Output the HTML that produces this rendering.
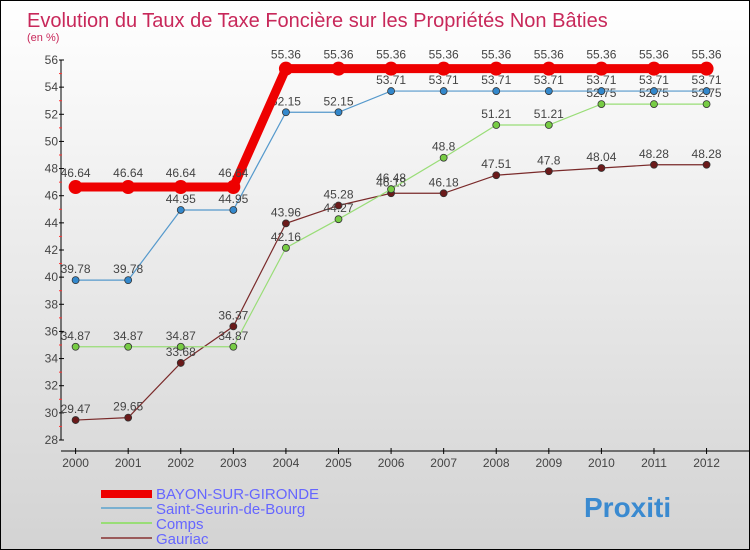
<!DOCTYPE html>
<html><head><meta charset="utf-8"><style>
body{margin:0}
#wrap{width:750px;height:550px;position:relative;box-sizing:border-box;border:1px solid #000;background:linear-gradient(#ffffff,#d3d3d3);font-family:"Liberation Sans",sans-serif;overflow:hidden}
</style></head><body>
<div id="wrap">
<svg id="chart" width="748" height="548"></svg>
</div>
<script>
const years=[2000,2001,2002,2003,2004,2005,2006,2007,2008,2009,2010,2011,2012];
const bayon=[46.64,46.64,46.64,46.64,55.36,55.36,55.36,55.36,55.36,55.36,55.36,55.36,55.36];
const saint=[39.78,39.78,44.95,44.95,52.15,52.15,53.71,53.71,53.71,53.71,53.71,53.71,53.71];
const comps=[34.87,34.87,34.87,34.87,42.16,44.27,46.48,48.8,51.21,51.21,52.75,52.75,52.75];
const gauriac=[29.47,29.65,33.68,36.37,43.96,45.28,46.18,46.18,47.51,47.8,48.04,48.28,48.28];
const yTicks=[28,30,32,34,36,38,40,42,44,46,48,50,52,54,56];
const NS="http://www.w3.org/2000/svg";
const svg=document.getElementById('chart');
const X=i=>74.6+i*52.58;
const Y=v=>439-(v-28)*(380/28);
function el(t,a,txt){const e=document.createElementNS(NS,t);for(const k in a)e.setAttribute(k,a[k]);if(txt!==undefined)e.textContent=txt;svg.appendChild(e);return e;}
let t=el('text',{x:26,y:26,'font-size':20,fill:'#c8285a'},'Evolution du Taux de Taxe Foncière sur les Propriétés Non Bâties');

t=el('text',{x:26,y:40,'font-size':11,fill:'#c8285a'},'(en %)');

let a=el('line',{x1:60,y1:Y(56),x2:60,y2:Y(28),stroke:'#000'});
a=el('line',{x1:60,y1:450,x2:748,y2:450,stroke:'#000'});
yTicks.forEach(v=>{
 el('line',{x1:58,y1:Y(v),x2:63,y2:Y(v),stroke:'#000'});
 if(v<56) el('line',{x1:58,y1:Y(v+1),x2:61,y2:Y(v+1),stroke:'#f33'});
 const l=el('text',{x:57,y:Y(v)+4,'font-size':12,fill:'#444','text-anchor':'end'},v);
 
});
years.forEach((y,i)=>{
 el('line',{x1:X(i),y1:447,x2:X(i),y2:453,stroke:'#000'});
 const l=el('text',{x:X(i),y:466,'font-size':12,fill:'#444','text-anchor':'middle'},y);
 
});
function series(data,color,w,r,name,fill){
 const p=el('polyline',{points:data.map((v,i)=>X(i)+','+Y(v)).join(' '),fill:'none',stroke:color,'stroke-width':w});
 
 data.forEach((v,i)=>{
  const c=el('circle',{cx:X(i),cy:Y(v),r:r,fill:fill,stroke:'#333','stroke-width':r>5?0:0.8});
  
  const l=el('text',{x:X(i),y:Y(v)-7-(r>5?3:0),'font-size':12,fill:'#444','text-anchor':'middle'},v);
  
 });
}
series(gauriac,'#7a2a2a',1.2,3.5,'gauriac','#6b1a1a');
series(comps,'#99dd77',1.2,3.5,'comps','#77cc44');
series(saint,'#5599cc',1.2,3.5,'saint-seurin','#3388cc');
series(bayon,'#ee0000',9,7,'bayon','#ee0000');
const leg=[['BAYON-SUR-GIRONDE','#ee0000',8],['Saint-Seurin-de-Bourg','#7ab0d0',2],['Comps','#99dd77',2],['Gauriac','#9a5a5a',2]];
leg.forEach((g,i)=>{
 const yy=492+i*15;
 const l=el('line',{x1:100,y1:yy+(i==0?1:0),x2:151,y2:yy+(i==0?1:0),stroke:g[1],'stroke-width':g[2]});
 
 const t=el('text',{x:155,y:yy+6,'font-size':15,fill:'#6666ff'},g[0]);
 
});
const px=el('text',{x:583,y:516,'font-size':28,'font-weight':'bold',fill:'#3a8ad0'},'Proxiti');

</script>
</body></html>
